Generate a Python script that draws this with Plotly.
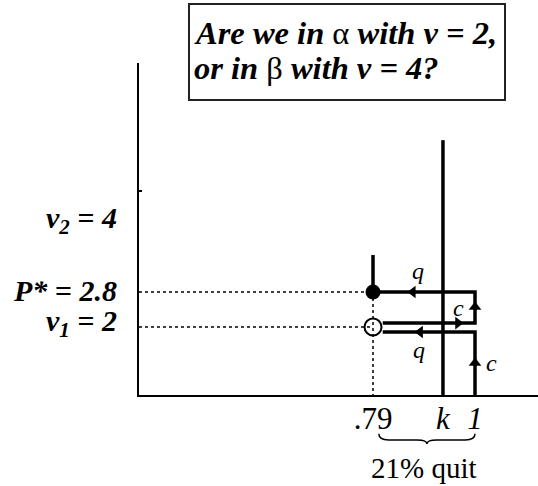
import plotly.graph_objects as go

# ---- data (schematic economic diagram) ----
share_stay = 0.79          # fraction who stay (x of P*)
k_val = 0.934              # cutoff k
one = 1.0                  # x = 1
v1 = 2.0                   # value in alpha
p_star = 2.8               # pooling price
v2 = 4.0                   # value in beta
v2_pos = 4.45              # schematic vertical position of v2 label
q_low = 1.886              # lower q-line level
c_up = 2.09                # upper c-line level
stub_top = 3.646           # top of the stub above P*
k_top = 6.27               # top of the k line
axis_tick = 5.11           # small tick on the y axis

x_tick_vals = [share_stay, k_val, one]
x_tick_text = [".79", "<i>k</i>", "<i>1</i>"]
left_labels = ["<b><i>v<sub>2</sub> = 4</i></b>", "<b><i>P* = 2.8</i></b>", "<b><i>v<sub>1</sub> = 2</i></b>"]
left_label_y = [v2_pos, p_star, v1]
left_label_shift = [0, 2, 4]

question_lines = [
    "<b><i>Are we in</i></b> α <b><i>with v = 2,</i></b>",
    "<b><i>or in</i></b> β <b><i>with v = 4?</i></b>",
]

X_RANGE = [0.3082, 1.1297]
Y_RANGE = [0.446, 8.034]
circ_gap = 0.02

SERIF = "Liberation Serif"

fig = go.Figure()

# dotted guide lines
fig.add_trace(go.Scatter(
    x=[X_RANGE[0], share_stay, None, X_RANGE[0], share_stay, None, share_stay, share_stay],
    y=[p_star, p_star, None, v1, v1, None, p_star, Y_RANGE[0]],
    mode="lines", line=dict(color="black", width=1.5, dash="3px,3px"),
    hoverinfo="skip", showlegend=False))

# k line
fig.add_trace(go.Scatter(
    x=[k_val, k_val], y=[Y_RANGE[0], k_top], mode="lines",
    line=dict(color="black", width=3.5), hoverinfo="skip", showlegend=False))

# adjustment path
fig.add_trace(go.Scatter(
    x=[one, one, share_stay + circ_gap, None,
       share_stay + circ_gap, one, one, share_stay, share_stay],
    y=[Y_RANGE[0], q_low, q_low, None,
       c_up, c_up, p_star, p_star, stub_top],
    mode="lines", line=dict(color="black", width=3.5),
    hoverinfo="skip", showlegend=False))

# arrowheads
arrows = [
    (0.872, p_star, "triangle-left"),
    (one, 2.457, "triangle-up"),
    (0.965, c_up, "triangle-right"),
    (0.887, q_low, "triangle-left"),
    (one, 1.177, "triangle-up"),
]
for ax_, ay_, sym in arrows:
    fig.add_trace(go.Scatter(
        x=[ax_], y=[ay_], mode="markers",
        marker=dict(symbol=sym, size=11, color="black"),
        hoverinfo="skip", showlegend=False))

# points
fig.add_trace(go.Scatter(
    x=[share_stay], y=[p_star], mode="markers",
    marker=dict(symbol="circle", size=15, color="black"),
    hoverinfo="skip", showlegend=False))
fig.add_trace(go.Scatter(
    x=[share_stay], y=[v1], mode="markers",
    marker=dict(symbol="circle-open", size=17, color="black", line=dict(width=2)),
    hoverinfo="skip", showlegend=False))

annotations = []
# left labels
for txt, yy, sh in zip(left_labels, left_label_y, left_label_shift):
    annotations.append(dict(
        x=0, xref="paper", y=yy, yref="y", xanchor="right", yanchor="middle",
        xshift=-20, yshift=sh, text=txt, showarrow=False,
        font=dict(family=SERIF, size=30, color="black")))

# q / c labels
for txt, xx, yy in [("q", 0.883, 3.28), ("c", 0.967, 2.43), ("q", 0.885, 1.47), ("c", 1.034, 1.177)]:
    annotations.append(dict(
        x=xx, y=yy, xref="x", yref="y", text="<i>%s</i>" % txt, showarrow=False,
        font=dict(family=SERIF, size=24, color="black")))

# question box text (one annotation per line)
for txt, yy in zip(question_lines, [1.0903, 0.9849]):
    annotations.append(dict(
        x=0.1328, xref="paper", y=yy, yref="paper", xanchor="left", yanchor="middle",
        text=txt, showarrow=False,
        font=dict(family=SERIF, size=32.5, color="black")))

# 21% quit
annotations.append(dict(
    x=(share_stay + one) / 2, xref="x", y=-0.22, yref="paper",
    yanchor="middle", text="21% quit", showarrow=False,
    font=dict(family=SERIF, size=29, color="black")))

# brace under .79 .. 1
x0, x1 = share_stay + 0.012, one
xm = (x0 + x1) / 2
s = 0.02
yt, ym, yb = -0.117, -0.1355, -0.1476
brace = (f"M {x0},{yt} Q {x0},{ym} {x0 + s},{ym} L {xm - s},{ym} "
         f"Q {xm},{ym} {xm},{yb} Q {xm},{ym} {xm + s},{ym} "
         f"L {x1 - s},{ym} Q {x1},{ym} {x1},{yt}")

fig.update_layout(
    width=538, height=486,
    margin=dict(l=139, r=0, t=63, b=91),
    plot_bgcolor="white", paper_bgcolor="white",
    annotations=annotations,
    shapes=[
        dict(type="path", path=brace, xref="x", yref="paper",
             line=dict(color="black", width=1.5)),
        dict(type="rect", xref="paper", yref="paper",
             x0=0.1253, x1=0.9173, y0=0.8886, y1=1.1777,
             line=dict(color="#222", width=2), fillcolor="white", layer="below"),
    ],
    xaxis=dict(range=X_RANGE, showgrid=False, zeroline=False,
               showline=True, linecolor="black", linewidth=2,
               tickvals=x_tick_vals, ticktext=x_tick_text, ticks="",
               ticklabelstandoff=-5,
               tickfont=dict(family=SERIF, size=31, color="black")),
    yaxis=dict(range=Y_RANGE, showgrid=False, zeroline=False,
               showline=True, linecolor="black", linewidth=2,
               tickvals=[axis_tick], showticklabels=False, ticks="inside",
               ticklen=3, tickwidth=2, tickcolor="black"),
)

fig.write_html("out.html", config={"displayModeBar": False},
               post_script="document.body.style.margin='0';")
